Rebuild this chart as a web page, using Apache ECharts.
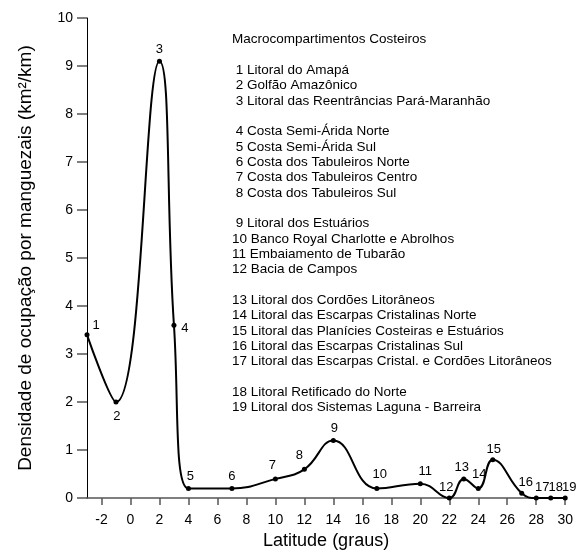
<!DOCTYPE html>
<html>
<head>
<meta charset="utf-8">
<script src="https://cdn.jsdelivr.net/npm/echarts@6/dist/echarts.min.js"></script>
<style>html,body{margin:0;padding:0;background:#fff;}#c{width:576px;height:555px;}</style>
</head>
<body>
<div id="c"></div>
<script>
// Data
const latitudes = [-3, -1, 2, 3, 4, 7, 10, 12, 14, 17, 20, 22, 23, 24, 25, 27, 28, 29, 30];
const densities = [3.4, 2.0, 9.1, 3.6, 0.2, 0.2, 0.4, 0.6, 1.2, 0.2, 0.3, 0.0, 0.4, 0.2, 0.8, 0.1, 0.0, 0.0, 0.0];
const pointLabels = ['1','2','3','4','5','6','7','8','9','10','11','12','13','14','15','16','17','18','19'];
const xTickValues = [-2, 0, 2, 4, 6, 8, 10, 12, 14, 16, 18, 20, 22, 24, 26, 28, 30];
const legendTitle = 'Macrocompartimentos Costeiros';
const legendGroups = [
  ['1 Litoral do Amapá', '2 Golfão Amazônico', '3 Litoral das Reentrâncias Pará-Maranhão'],
  ['4 Costa Semi-Árida Norte', '5 Costa Semi-Árida Sul', '6 Costa dos Tabuleiros Norte', '7 Costa dos Tabuleiros Centro', '8 Costa dos Tabuleiros Sul'],
  ['9 Litoral dos Estuários', '10 Banco Royal Charlotte e Abrolhos', '11 Embaiamento de Tubarão', '12 Bacia de Campos'],
  ['13 Litoral dos Cordões Litorâneos', '14 Litoral das Escarpas Cristalinas Norte', '15 Litoral das Planícies Costeiras e Estuários', '16 Litoral das Escarpas Cristalinas Sul', '17 Litoral das Escarpas Cristal. e Cordões Litorâneos'],
  ['18 Litoral Retificado do Norte', '19 Litoral dos Sistemas Laguna - Barreira']
];
const xAxisTitle = 'Latitude (graus)';
const yAxisTitle = 'Densidade de ocupação por manguezais (km²/km)';

// Styling: label offsets relative to each point (pixels)
const labelOffsets = [[9,-9],[1,14],[0,-12],[11,3],[2,-12],[0,-12],[-3,-13],[-5,-14],[1,-12],[3,-14],[5,-12],[-3,-11],[-2,-11],[1,-14],[1,-10],[4,-11],[6,-11],[5,-11],[4,-11]];

const legendText = [legendTitle, ''].concat(
  legendGroups.map(g => g.map(s => (/^\d\s/.test(s) ? ' ' : '') + s).join('\n')).join('\n\n').split('\n')
).join('\n');

const FONT = 'Liberation Sans, Arial, sans-serif';
const chart = echarts.init(document.getElementById('c'), null, {renderer: 'canvas'});
chart.setOption({
  backgroundColor: '#fff',
  animation: false,
  grid: {left: 87, right: 10, top: 18, bottom: 52, containLabel: false},
  xAxis: {
    type: 'value', min: -3, max: 30,
    name: xAxisTitle, nameLocation: 'middle', nameGap: 28,
    nameTextStyle: {fontFamily: FONT, fontSize: 18, color: '#000'},
    axisLine: {show: true, onZero: false, lineStyle: {color: '#555', width: 1.5}},
    axisTick: {show: true, length: 7, lineStyle: {color: '#555', width: 1.5}, customValues: xTickValues},
    axisLabel: {fontFamily: FONT, fontSize: 14, color: '#000', margin: 15, customValues: xTickValues},
    splitLine: {show: false}
  },
  yAxis: {
    type: 'value', min: 0, max: 10, interval: 1,
    name: yAxisTitle, nameLocation: 'middle', nameGap: 52,
    nameTextStyle: {fontFamily: FONT, fontSize: 19, color: '#000'},
    axisLine: {show: true, onZero: false, lineStyle: {color: '#000', width: 1}},
    axisTick: {show: true, length: 10, lineStyle: {color: '#555', width: 1.5}},
    axisLabel: {fontFamily: FONT, fontSize: 14, color: '#000', margin: 14},
    splitLine: {show: false}
  },
  series: [{
    type: 'line',
    smooth: 0.45,
    symbol: 'circle', symbolSize: 5,
    lineStyle: {color: '#000', width: 2},
    itemStyle: {color: '#000'},
    label: {show: true, position: 'inside', fontFamily: FONT, fontSize: 13, color: '#000'},
    data: latitudes.map((x, i) => ({
      value: [x, densities[i]],
      label: {formatter: pointLabels[i], offset: labelOffsets[i]}
    }))
  }],
  graphic: [{
    type: 'text', left: 232, top: 32,
    style: {text: legendText, fontFamily: FONT, fontSize: 13.5, lineHeight: 15.33, fill: '#000'}
  }]
});
</script>
</body>
</html>
